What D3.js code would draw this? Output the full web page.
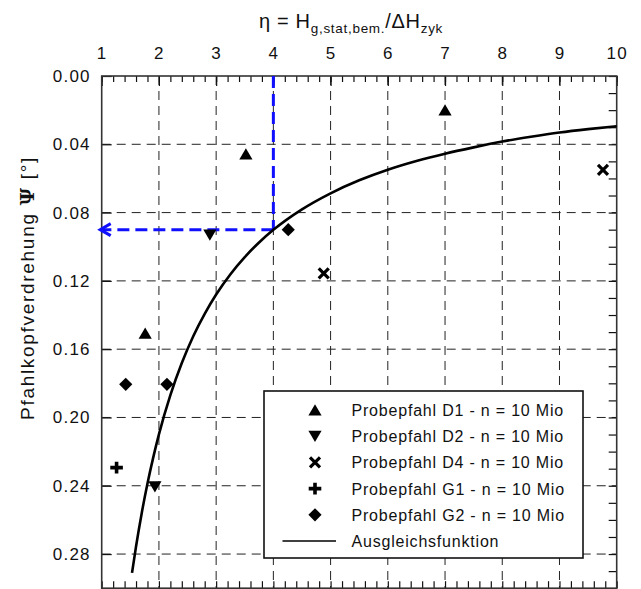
<!DOCTYPE html>
<html><head><meta charset="utf-8">
<script src="https://cdn.jsdelivr.net/npm/d3@7"></script>
<style>
html,body{margin:0;padding:0;background:#fff;}
svg{display:block;font-family:"Liberation Sans",Arial,sans-serif;}
</style></head>
<body><svg id="c" width="641" height="589"></svg>
<script>
// ---------- data ----------
const xTicks = [1,2,3,4,5,6,7,8,9,10];
const yTicks = [0.00,0.04,0.08,0.12,0.16,0.20,0.24,0.28];
const seriesNames = [
  "Probepfahl D1 - n = 10 Mio",
  "Probepfahl D2 - n = 10 Mio",
  "Probepfahl D4 - n = 10 Mio",
  "Probepfahl G1 - n = 10 Mio",
  "Probepfahl G2 - n = 10 Mio"
];
const fitName = "Ausgleichsfunktion";
const d1Eta = [1.76, 3.52, 7.00];
const d1Psi = [0.1507, 0.0457, 0.0199];
const d2Eta = [1.93, 2.89];
const d2Psi = [0.2405, 0.0931];
const d4Eta = [4.88, 9.76];
const d4Psi = [0.1156, 0.0550];
const g1Eta = [1.26];
const g1Psi = [0.2294];
const g2Eta = [1.42, 2.14, 4.26];
const g2Psi = [0.1806, 0.1806, 0.0900];
const fitEta = [1.53,1.6,1.7,1.8,1.9,2.0,2.2,2.4,2.6,2.8,3.0,3.25,3.5,3.75,4.0,4.5,5.0,5.5,6.0,6.5,7.0,7.5,8.0,8.5,9.0,9.5,10.0];
const fitPsi = [0.291,0.2756,0.2559,0.2387,0.2235,0.2099,0.1869,0.1681,0.1524,0.1393,0.1280,0.1161,0.1061,0.0975,0.0901,0.0781,0.0687,0.0611,0.0549,0.0498,0.0455,0.0418,0.0384,0.0356,0.0331,0.0311,0.0294];
const readEta = [4, 1];
const readPsi = [0, 0.09];

// ---------- layout ----------
const svg = d3.select("#c");
const L = 101.7, R = 616.7, T = 76, B = 588.2;
const x = d3.scaleLinear().domain([1,10]).range([L,R]);
const y = d3.scaleLinear().domain([0,0.30]).range([T,B]);

// grid
const grid = svg.append("g").attr("stroke","#222").attr("stroke-width",1).attr("stroke-dasharray","9,6");
grid.selectAll("line.v").data(xTicks.slice(1,-1)).join("line")
  .attr("x1",d=>x(d)).attr("x2",d=>x(d)).attr("y1",T).attr("y2",B);
grid.selectAll("line.h").data(yTicks.slice(1)).join("line")
  .attr("x1",L).attr("x2",R).attr("y1",d=>y(d)).attr("y2",d=>y(d));

// minor tick values
const xMinor = d3.range(1,10.001,0.2).map(v=>+v.toFixed(2));
const yMinor = d3.range(0,0.3001,0.01).map(v=>+v.toFixed(3));

function styleAxis(g){
  g.select(".domain").remove();
  g.selectAll(".tick line").attr("stroke","#111").attr("stroke-width",1.2);
  g.selectAll("text").attr("fill","#111").attr("font-size",17).attr("letter-spacing","1.2px")
   .attr("font-family","'Liberation Sans',Arial,sans-serif");
}
// top axis
svg.append("g").attr("transform",`translate(0,${T})`)
  .call(d3.axisTop(x).tickValues(xMinor).tickSize(-6).tickFormat(""))
  .call(styleAxis);
svg.append("g").attr("transform",`translate(0,${T})`)
  .call(d3.axisTop(x).tickValues(xTicks).tickSize(-10).tickPadding(17).tickFormat(d3.format("d")))
  .call(styleAxis);
// bottom axis (minor)
svg.append("g").attr("transform",`translate(0,${B})`)
  .call(d3.axisBottom(x).tickValues(xMinor).tickSize(-7).tickFormat(""))
  .call(styleAxis);
// left axis
svg.append("g").attr("transform",`translate(${L},0)`)
  .call(d3.axisLeft(y).tickValues(yTicks).tickSize(-10).tickPadding(11).tickFormat(d3.format(".2f")))
  .call(styleAxis);
// right axis (minor)
svg.append("g").attr("transform",`translate(${R},0)`)
  .call(d3.axisRight(y).tickValues(yMinor).tickSize(-8).tickFormat(""))
  .call(styleAxis);

// frame
svg.append("rect").attr("x",L).attr("y",T).attr("width",R-L).attr("height",B-T)
  .attr("fill","none").attr("stroke","#333").attr("stroke-width",1.6);

// reading arrow (blue)
const blue = "#1010ff";
const rg = svg.append("g").attr("stroke",blue).attr("stroke-width",3).attr("fill","none");
rg.append("line").attr("x1",x(readEta[0])).attr("x2",x(readEta[0]))
  .attr("y1",y(readPsi[0])).attr("y2",y(readPsi[1])).attr("stroke-dasharray","12,6");
rg.append("line").attr("x1",x(readEta[0])).attr("x2",x(readEta[1])-1)
  .attr("y1",y(readPsi[1])).attr("y2",y(readPsi[1])).attr("stroke-dasharray","12,6");
rg.append("path").attr("d",`M${x(readEta[1])+9},${y(readPsi[1])-6} L${x(readEta[1])-1.5},${y(readPsi[1])} L${x(readEta[1])+9},${y(readPsi[1])+6}`)
  .attr("stroke-linejoin","miter");

// fit curve
const line = d3.line().x(d=>x(d[0])).y(d=>y(d[1])).curve(d3.curveMonotoneX);
svg.append("path").datum(fitEta.map((e,i)=>[e,fitPsi[i]]))
  .attr("d",line).attr("fill","none").attr("stroke","#000").attr("stroke-width",2.6);

// markers
function drawMarker(g, type, cx, cy){
  const s = g.append("g").attr("transform",`translate(${cx},${cy})`);
  if(type==="up") s.append("path").attr("d","M0,-5.8 L6.6,5.4 L-6.6,5.4 Z").attr("fill","#000");
  else if(type==="down") s.append("path").attr("d","M0,5.8 L6.6,-5.4 L-6.6,-5.4 Z").attr("fill","#000");
  else if(type==="diamond") s.append("path").attr("d","M0,-6.6 L6.6,0 L0,6.6 L-6.6,0 Z").attr("fill","#000");
  else if(type==="x"){
    s.append("path").attr("d","M-5,-5 L5,5 M-5,5 L5,-5").attr("stroke","#000").attr("stroke-width",3.2);
  } else if(type==="plus"){
    s.append("path").attr("d","M-6.3,0 L6.3,0 M0,-5.8 L0,5.8").attr("stroke","#000").attr("stroke-width",3.6);
  }
}
const series = [
  {eta:d1Eta, psi:d1Psi, type:"up"},
  {eta:d2Eta, psi:d2Psi, type:"down"},
  {eta:d4Eta, psi:d4Psi, type:"x"},
  {eta:g1Eta, psi:g1Psi, type:"plus"},
  {eta:g2Eta, psi:g2Psi, type:"diamond"}
];
const mg = svg.append("g");
series.forEach(s=>s.eta.forEach((e,i)=>drawMarker(mg, s.type, x(e), y(s.psi[i]))));

// legend
const lg = svg.append("g");
lg.append("rect").attr("x",264).attr("y",391).attr("width",319).attr("height",167)
  .attr("fill","#fff").attr("stroke","#111").attr("stroke-width",1.6);
const rowY = i => 410 + i*26.2;
series.forEach((s,i)=>{
  drawMarker(lg, s.type, 315, rowY(i));
  lg.append("text").attr("x",351.5).attr("y",rowY(i)+6).attr("font-size",16).attr("letter-spacing","0.8px")
    .attr("fill","#111").text(seriesNames[i]);
});
lg.append("line").attr("x1",282.5).attr("x2",336).attr("y1",rowY(5)).attr("y2",rowY(5))
  .attr("stroke","#000").attr("stroke-width",1.6);
lg.append("text").attr("x",351.5).attr("y",rowY(5)+6).attr("font-size",16).attr("letter-spacing","0.8px")
  .attr("fill","#111").text(fitName);

// top title
const tt = svg.append("text").attr("x",351).attr("y",28).attr("text-anchor","middle")
  .attr("font-size",20).attr("letter-spacing","0.7px").attr("fill","#111");
tt.append("tspan").text("η = H");
tt.append("tspan").attr("font-size",13.5).attr("dy",5).text("g,stat,bem.");
tt.append("tspan").attr("dy",-5).text("/ΔH");
tt.append("tspan").attr("font-size",13.5).attr("dy",5).text("zyk");

// y label
const yl = svg.append("text").attr("transform","translate(34,288) rotate(-90)")
  .attr("text-anchor","middle").attr("font-size",19).attr("letter-spacing","1.7px").attr("fill","#111");
yl.append("tspan").text("Pfahlkopfverdrehung ");
yl.append("tspan").attr("font-family","'DejaVu Serif','Liberation Serif',serif").attr("font-weight","bold").text("Ψ");
yl.append("tspan").text(" [°]");
</script>
</body></html>
